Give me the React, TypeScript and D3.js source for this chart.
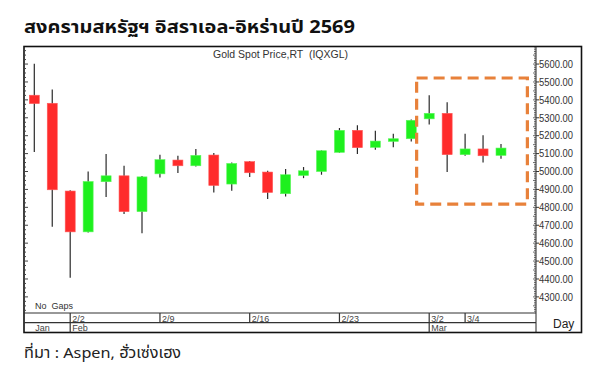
import React from "react";
import * as d3 from "d3";

const dates = [
  "2026-01-29","2026-01-30",
  "2026-02-02","2026-02-03","2026-02-04","2026-02-05","2026-02-06",
  "2026-02-09","2026-02-10","2026-02-11","2026-02-12","2026-02-13",
  "2026-02-16","2026-02-17","2026-02-18","2026-02-19","2026-02-20",
  "2026-02-23","2026-02-24","2026-02-25","2026-02-26","2026-02-27",
  "2026-03-02","2026-03-03","2026-03-04","2026-03-05","2026-03-06",
];
const opens = [5426,5381,4891,4663,4943,4976,4776,4987,5064,5032,5092,4930,5055,4997,4876,4978,5000,5107,5230,5135,5168,5183,5294,5325,5094,5126,5090];
const highs = [5602,5458,4895,5000,5098,5032,4975,5094,5088,5126,5103,5051,5058,5004,5014,5025,5118,5243,5258,5228,5211,5290,5426,5387,5211,5202,5154];
const lows = [5109,4692,4407,4660,4857,4763,4655,4967,4991,5028,4883,4892,4969,4847,4861,4963,4982,5105,5098,5122,5135,5168,5262,4997,5088,5051,5071];
const closes = [5379,4898,4663,4944,4976,4776,4970,5066,5032,5090,4922,5045,4993,4883,4982,5004,5116,5230,5133,5170,5183,5286,5325,5094,5126,5088,5131];

const priceTicks = [4300,4400,4500,4600,4700,4800,4900,5000,5100,5200,5300,5400,5500,5600];
const weekLabels = ["2/2","2/9","2/16","2/23","3/2","3/4"];
const weekIndex = [2,7,12,17,22,24];
const monthLabels = ["Jan","Feb","Mar"];
const monthIndex = [0,2,22];

const titleText = "สงครามสหรัฐฯ อิสราเอล-อิหร่านปี 2569";
const sourceText = "ที่มา : Aspen, ฮั่วเซ่งเฮง";
const seriesName = "Gold Spot Price,RT  (IQXGL)";

// highlight box (index range, price range)
const boxIndex = [21.3, 27.47];
const boxPrice = [4818, 5522];

const W = 613, H = 370;
const frameL = 24, frameR = 581.5, frameT = 46.5, frameB = 332.5;
const axisX = 536;
const plotB = 313;
const row2 = 322.7;

const FONT = "Tahoma, 'Liberation Sans', Arial, sans-serif";
const THAI = "Tahoma, 'Noto Sans Thai', 'Noto Sans', 'Liberation Sans', sans-serif";

export default function App() {
  const x = d3.scaleLinear().domain([0, dates.length - 1]).range([34.3, 501]);
  const y = d3.scaleLinear().domain([4210, 5698]).range([plotB, frameT]);
  const bodyW = 10;
  const red = "#ff2b2b";
  const green = "#1ef01e";

  const rulerMinor = d3.range(4220, 5700, 10);
  const leftTicks = d3.range(4225, 5700, 25);

  return (
    <svg width={W} height={H} style={{ position: "fixed", left: 0, top: 0, background: "#fff" }}>
      <rect x={0} y={0} width={W} height={H} fill="#fff" />
      <text x={24} y={33} fontFamily={THAI} fontWeight="bold" fontSize={18} fill="#111" textLength={331} lengthAdjust="spacingAndGlyphs">{titleText}</text>

      {/* frame */}
      <rect x={frameL} y={frameT} width={frameR - frameL} height={frameB - frameT} fill="none" stroke="#111" strokeWidth={1.6} />
      <line x1={axisX} x2={axisX} y1={frameT} y2={frameB} stroke="#222" strokeWidth={1} />
      <line x1={frameL} x2={axisX} y1={plotB} y2={plotB} stroke="#333" strokeWidth={1.2} />
      <line x1={frameL} x2={axisX} y1={row2} y2={row2} stroke="#333" strokeWidth={1.2} />

      {/* left ruler */}
      {leftTicks.map((v) => (
        <line key={"l" + v} x1={frameL} x2={frameL + (v % 100 === 0 ? 4 : 2)} y1={y(v)} y2={y(v)} stroke="#444" strokeWidth={1} />
      ))}

      {/* right axis ruler */}
      {rulerMinor.map((v) => (
        <line key={"r" + v} x1={axisX - (v % 50 === 0 ? 3 : 2)} x2={axisX} y1={y(v)} y2={y(v)} stroke="#444" strokeWidth={0.8} />
      ))}
      {priceTicks.map((v) => (
        <g key={"t" + v}>
          <line x1={axisX} x2={axisX + 3} y1={y(v)} y2={y(v)} stroke="#333" />
          <text x={539} y={y(v) + 3.8} fontFamily={FONT} fontSize={10.5} fill="#333" textLength={34} lengthAdjust="spacingAndGlyphs">{v.toFixed(2)}</text>
        </g>
      ))}

      <text x={213} y={58} fontFamily={FONT} fontSize={10.5} fill="#333" textLength={135} lengthAdjust="spacing" style={{ whiteSpace: "pre" }}>{seriesName}</text>
      <text x={35} y={309} fontFamily={FONT} fontSize={9} fill="#333" style={{ whiteSpace: "pre" }}>No  Gaps</text>

      {/* candles */}
      {dates.map((d, i) => {
        const o = opens[i], c = closes[i];
        const up = c >= o;
        const top = y(Math.max(o, c));
        const bot = y(Math.min(o, c));
        return (
          <g key={d}>
            <line x1={x(i)} x2={x(i)} y1={y(highs[i])} y2={y(lows[i])} stroke="#2a2a2a" strokeWidth={1.2} />
            <rect x={x(i) - bodyW / 2} y={top} width={bodyW} height={Math.max(1.5, bot - top)} fill={up ? green : red} stroke={up ? "#5cf55c" : "#ff5a5a"} strokeWidth={0.6} />
          </g>
        );
      })}

      {/* highlight box */}
      <rect x={x(boxIndex[0])} y={y(boxPrice[1])} width={x(boxIndex[1]) - x(boxIndex[0])} height={y(boxPrice[0]) - y(boxPrice[1])}
        fill="none" stroke="#e8813a" strokeWidth={3.2} strokeDasharray="11 6" />

      {/* date rows */}
      {weekLabels.map((l, k) => (
        <g key={"w" + l}>
          <line x1={x(weekIndex[k])} x2={x(weekIndex[k])} y1={plotB} y2={row2} stroke="#333" strokeWidth={1.2} />
          <text x={x(weekIndex[k]) + 2} y={321.5} fontFamily={FONT} fontSize={9} fill="#444">{l}</text>
        </g>
      ))}
      {monthLabels.map((l, k) => (
        <g key={"m" + l}>
          {monthIndex[k] > 0 && <line x1={x(monthIndex[k])} x2={x(monthIndex[k])} y1={row2} y2={frameB} stroke="#333" strokeWidth={1.2} />}
          <text x={monthIndex[k] === 0 ? x(0) + 1 : x(monthIndex[k]) + 2} y={331.2} fontFamily={FONT} fontSize={9} fill="#444">{l}</text>
        </g>
      ))}
      <text x={553} y={328} fontFamily={FONT} fontSize={12} fill="#222">Day</text>

      <text x={24} y={358} fontFamily={THAI} fontSize={15} fill="#222" textLength={157} lengthAdjust="spacingAndGlyphs">{sourceText}</text>
    </svg>
  );
}
